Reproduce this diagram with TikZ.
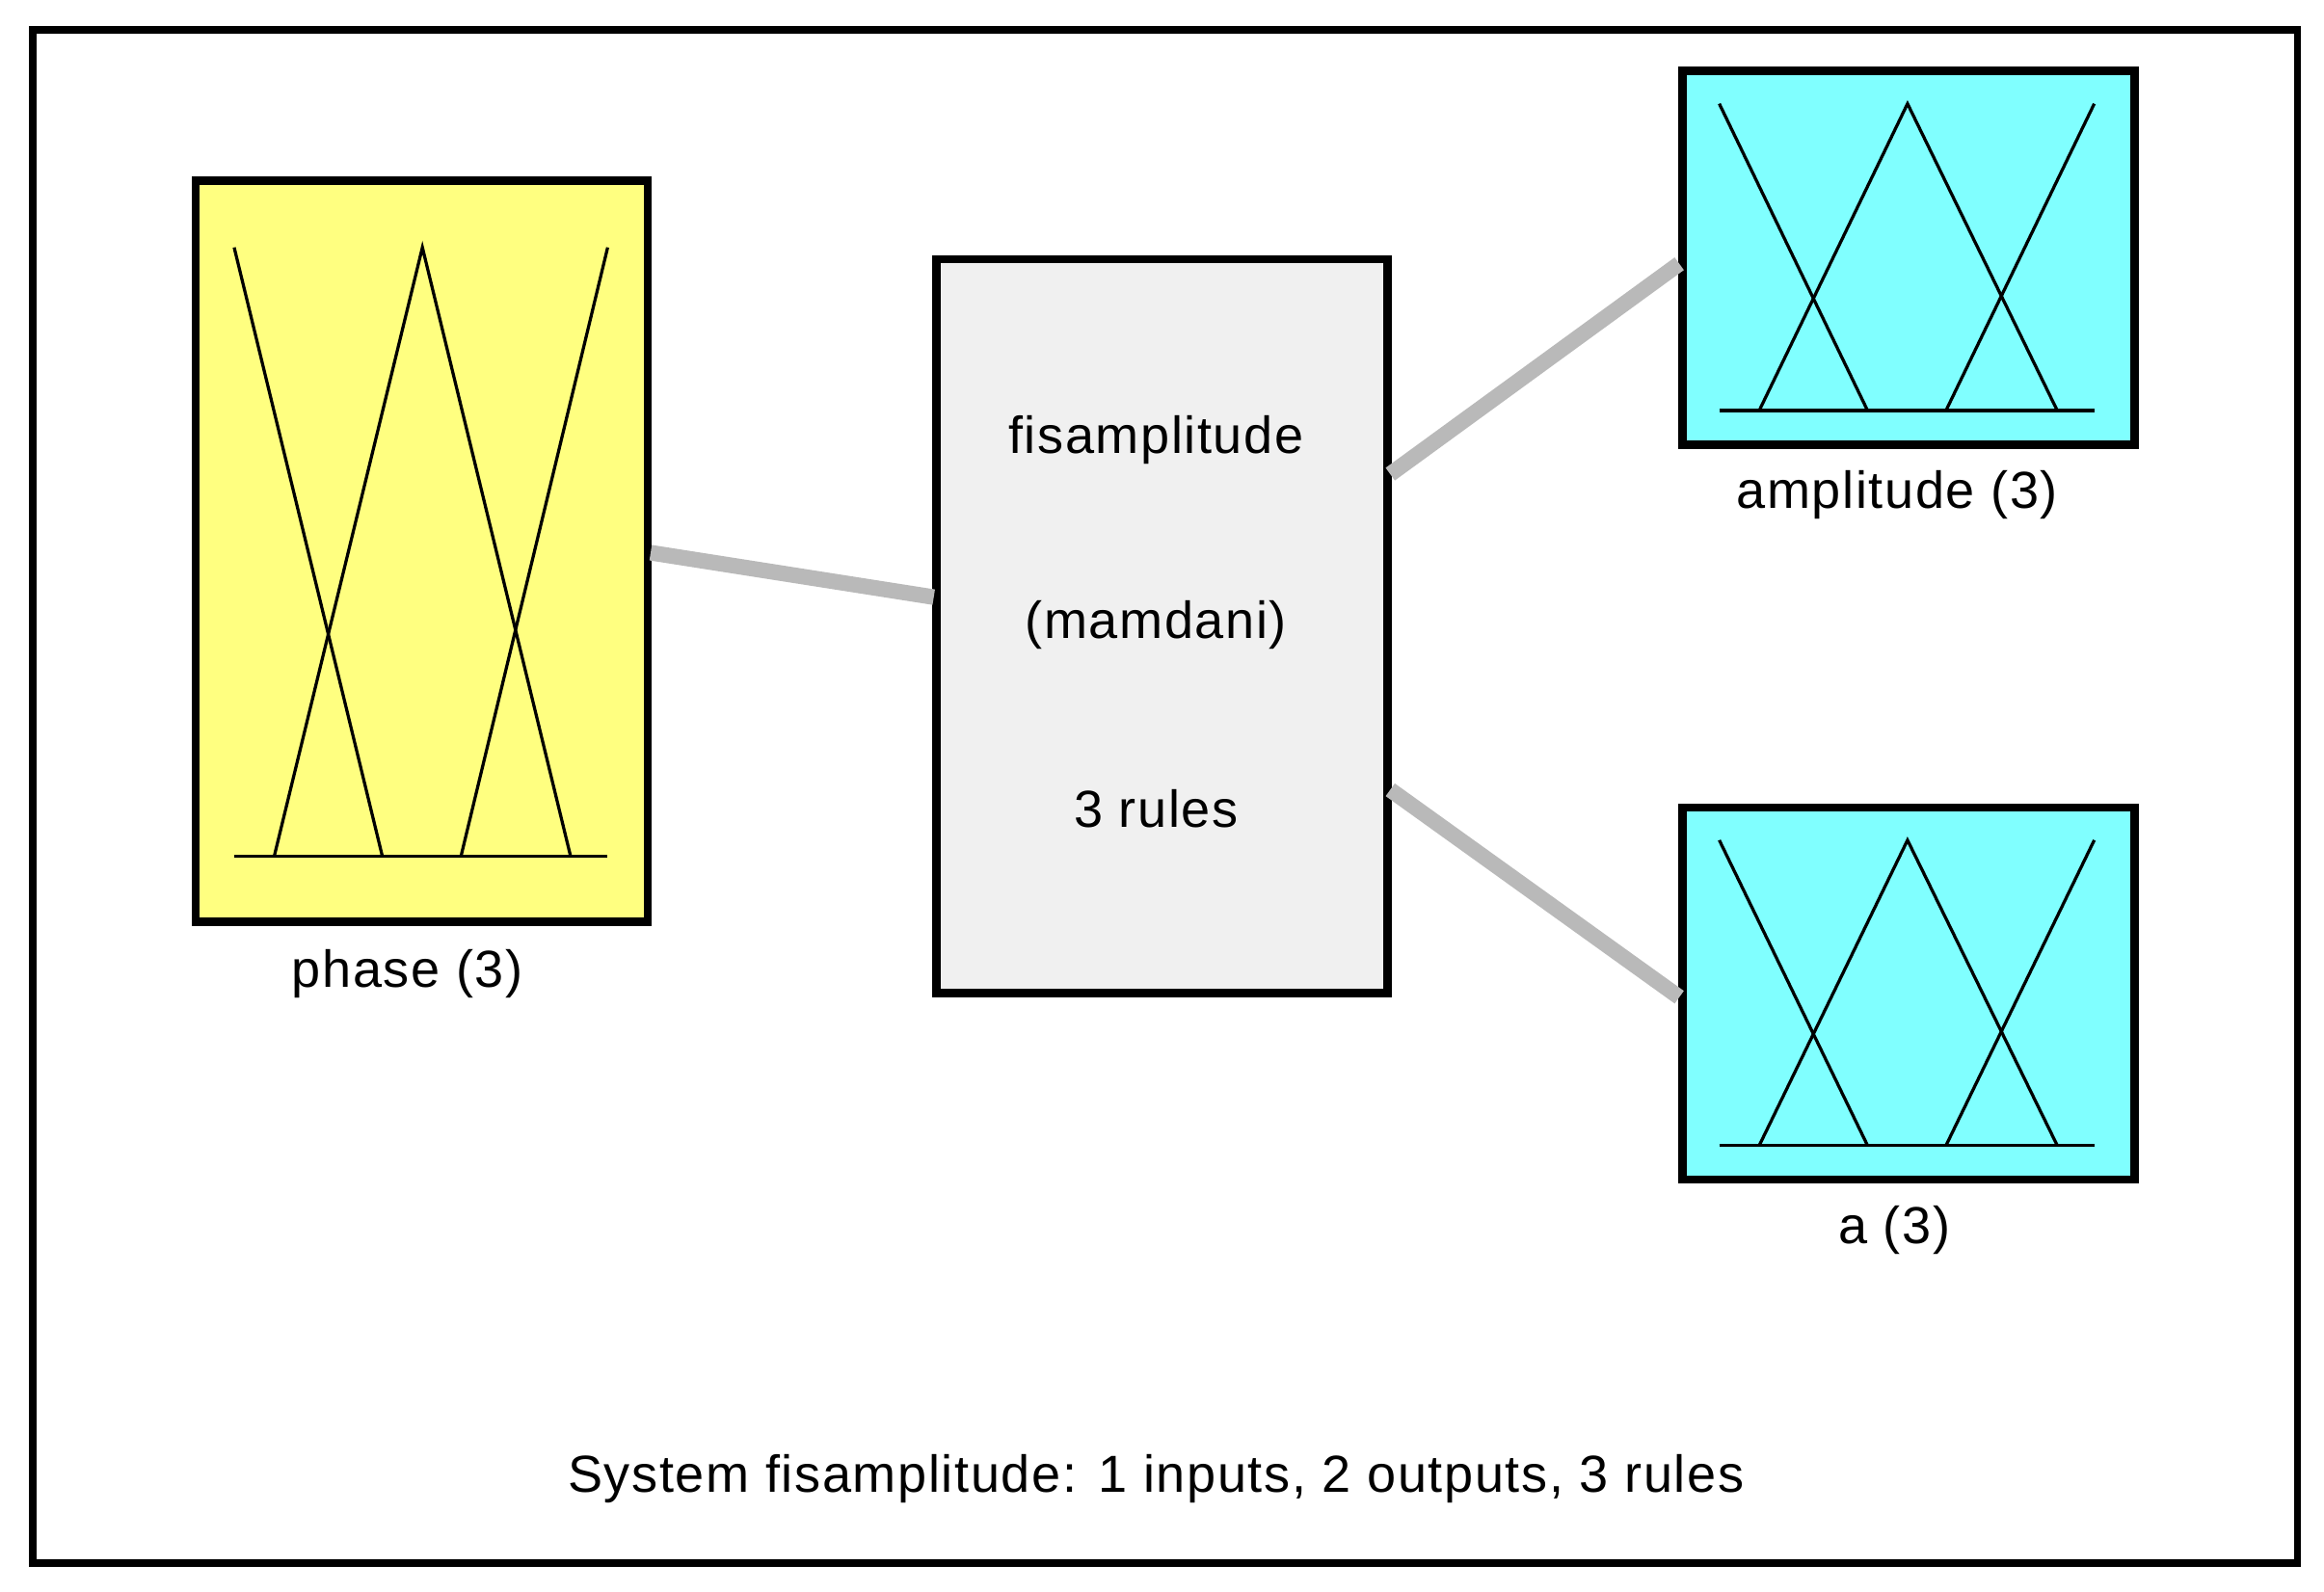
\documentclass[tikz,border=0pt]{standalone}
\usepackage{fontspec}
\setmainfont{Liberation Sans}[LetterSpace=3]
\begin{document}
\begin{tikzpicture}[x=0.01cm,y=-0.01cm,
  box/.style={draw=black,line width=1.6pt},
  mf/.style={line width=0.6pt},
  conn/.style={draw=gray!55,line width=3pt},
  lbl/.style={font=\fontsize{10}{12}\selectfont}]
\useasboundingbox (0,0) rectangle (1568,1074);
\draw[line width=1.4pt] (22,20) rectangle (1550,1055);
% phase
\draw[box,fill={rgb,255:red,255;green,255;blue,128}] (132,122) rectangle (437,622);
\draw[mf] (158,578)--(410,578);
\draw[mf] (158,167)--(258,578);
\draw[mf] (185,578)--(285,167)--(385,578);
\draw[mf] (410,167)--(311,578);
\node[lbl] (phl) at (275,657) {phase (3)};
% center
\draw[box,fill={rgb,255:red,240;green,240;blue,240}] (632,175) rectangle (936,670);
\node[lbl] (c1) at (780,297) {fisamplitude};
\node[lbl] (c2) at (780,422) {(mamdani)};
\node[lbl] (c3) at (780,546) {3 rules};
% amplitude
\draw[box,fill={rgb,255:red,128;green,255;blue,255}] (1135,48) rectangle (1440,300);
\draw[mf] (1160,277)--(1413,277);
\draw[mf] (1160,70)--(1260,277);
\draw[mf] (1187,277)--(1287,70)--(1388,277);
\draw[mf] (1413,70)--(1313,277);
\node[lbl] (aml) at (1280,334) {amplitude (3)};
% a
\draw[box,fill={rgb,255:red,128;green,255;blue,255}] (1135,545) rectangle (1440,796);
\draw[mf] (1160,773)--(1413,773);
\draw[mf] (1160,567)--(1260,773);
\draw[mf] (1187,773)--(1287,567)--(1388,773);
\draw[mf] (1413,567)--(1313,773);
\node[lbl] (al) at (1278,830) {a (3)};
% connectors
\coordinate (p1) at (439,373); \coordinate (p2) at (630,403);
\coordinate (q1) at (938,320); \coordinate (q2) at (1133,178);
\coordinate (r1) at (938,533); \coordinate (r2) at (1133,673);
\draw[conn] (p1)--(p2);
\draw[conn] (q1)--(q2);
\draw[conn] (r1)--(r2);
\node[lbl] (sys) at (780,998) {System fisamplitude: 1 inputs, 2 outputs, 3 rules};
\end{tikzpicture}
\end{document}
